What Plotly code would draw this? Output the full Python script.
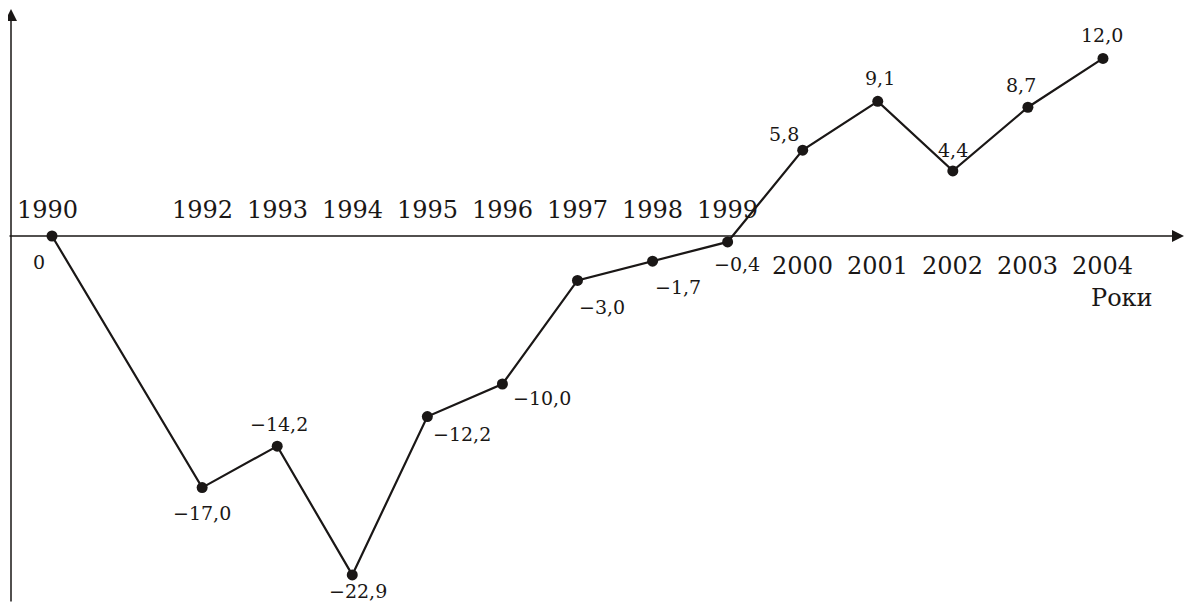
import plotly.graph_objects as go

# data
years = [1990, 1992, 1993, 1994, 1995, 1996, 1997, 1998, 1999, 2000, 2001, 2002, 2003, 2004]
values = [0.0, -17.0, -14.2, -22.9, -12.2, -10.0, -3.0, -1.7, -0.4, 5.8, 9.1, 4.4, 8.7, 12.0]
value_labels = ["0", "−17,0", "−14,2", "−22,9", "−12,2", "−10,0", "−3,0", "−1,7", "−0,4",
                "5,8", "9,1", "4,4", "8,7", "12,0"]
axis_title = "Роки"

# page body has an 8px margin, so the figure is 16px smaller than the window
W, H = 1177, 595
OFF = 8
INK = "#1a1716"
FONT = "DejaVu Serif"

# pixel offsets of each value label from its point (x right, y up)
label_offsets = [(-13, -26), (0, -25), (2, 22), (6, -16), (35, -17), (40, -14), (25, -27),
                 (25, -26), (9, -22), (-19, 16), (2, 23), (0, 21), (-7, 22), (-1, 23)]

# axis ranges so that 1990 sits at x=52px and 0 at y=236px of the window
px_per_year = 75.07
px_per_unit = 14.8
zero_x = 52 - OFF
zero_y = 236 - OFF
x0 = 1990 - zero_x / px_per_year
x1 = 1990 + (W - zero_x) / px_per_year
y_top = zero_y / px_per_unit
y_bot = -(H - zero_y) / px_per_unit

fig = go.Figure()

fig.add_trace(go.Scatter(
    x=years, y=values,
    mode="lines+markers",
    line=dict(color=INK, width=2.2),
    marker=dict(color=INK, size=11),
    hoverinfo="skip",
    showlegend=False,
))

annotations = []

# axes with arrows
annotations.append(dict(
    xref="paper", yref="y", x=(1187 - OFF) / W, y=0,
    ax=-(1187 - OFF), ay=0, axref="pixel", ayref="pixel",
    showarrow=True, arrowhead=2, arrowsize=1.6, arrowwidth=1.5, arrowcolor=INK, text="",
))
annotations.append(dict(
    xref="paper", yref="paper", x=(11 - OFF) / W, y=1 - (9 - OFF) / H,
    ax=0, ay=H, axref="pixel", ayref="pixel",
    showarrow=True, arrowhead=2, arrowsize=1.6, arrowwidth=1.5, arrowcolor=INK, text="",
))

# year labels: up to 1999 above the axis, from 2000 below
for yr in years:
    annotations.append(dict(
        x=yr, y=0, xref="x", yref="y", text=str(yr), showarrow=False,
        xshift=-5 if yr == 1990 else 0,
        yshift=26 if yr < 2000 else -30,
        font=dict(family=FONT, size=24, color=INK),
    ))

# value labels
for yr, v, lab, (dx, dy) in zip(years, values, value_labels, label_offsets):
    annotations.append(dict(
        x=yr, y=v, xref="x", yref="y", text=lab, showarrow=False,
        xshift=dx, yshift=dy,
        font=dict(family=FONT, size=19, color=INK),
    ))

annotations.append(dict(
    xref="paper", yref="y", x=(1155 - OFF) / W, y=0, yshift=-62, text=axis_title,
    showarrow=False, font=dict(family=FONT, size=24, color=INK),
))

fig.update_layout(
    width=W, height=H,
    margin=dict(l=0, r=0, t=0, b=0),
    paper_bgcolor="white", plot_bgcolor="white",
    xaxis=dict(range=[x0, x1], visible=False, fixedrange=True),
    yaxis=dict(range=[y_bot, y_top], visible=False, fixedrange=True),
    annotations=annotations,
    showlegend=False,
)

fig.write_html("out.html")
